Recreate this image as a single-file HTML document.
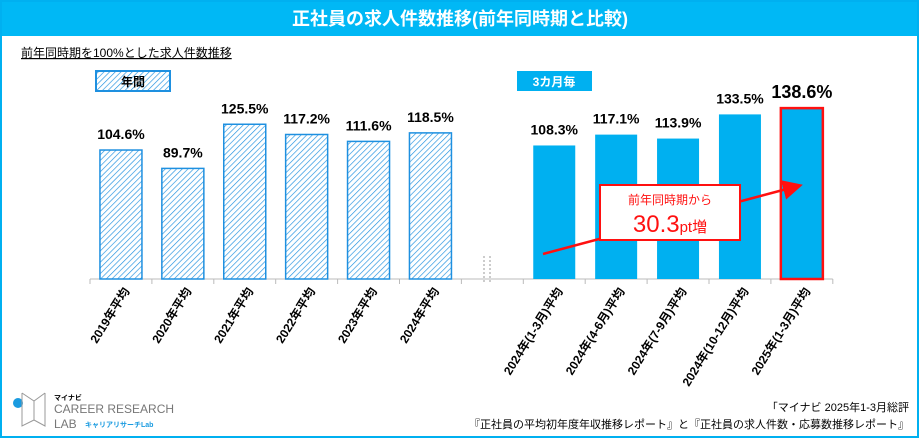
<!DOCTYPE html>
<html><head><meta charset="utf-8"><style>
body{margin:0;width:919px;height:438px;overflow:hidden;background:#fff;font-family:"Liberation Sans","Noto Sans CJK JP",sans-serif}
#frame{position:absolute;left:0;top:0;width:915px;height:434px;border:2px solid #00b0f0}
</style></head><body>
<div id="frame"></div>
<svg width="919" height="438" style="position:absolute;left:0;top:0">
<defs><pattern id="hatch" width="4" height="4" patternUnits="userSpaceOnUse" patternTransform="rotate(45)"><rect width="4" height="4" fill="#fff"/><line x1="0" y1="0" x2="0" y2="4" stroke="#1e90e0" stroke-width="1.3"/></pattern>
<marker id="ah" markerWidth="8" markerHeight="8" refX="6" refY="4" orient="auto"><path d="M0,0L8,4L0,8z" fill="#ff1010"/></marker></defs>
<rect x="2" y="2" width="915" height="34" fill="#00b8f5"/>
<text x="460" y="25" text-anchor="middle" font-size="18" font-weight="bold" fill="#fff">正社員の求人件数推移(前年同時期と比較)</text>
<text x="21" y="57" font-size="12" fill="#000" text-decoration="underline">前年同時期を100%とした求人件数推移</text>
<rect x="96" y="71" width="74" height="20" fill="url(#hatch)" stroke="#1e90e0" stroke-width="2"/>
<text x="133" y="86" text-anchor="middle" font-size="12" font-weight="bold">年間</text>
<rect x="517" y="71" width="75" height="20" fill="#00b0f0"/>
<text x="554" y="86" text-anchor="middle" font-size="12" font-weight="bold" fill="#fff">3カ月毎</text>
<g id="plot"></g>
<line x1="484" y1="256" x2="484" y2="284" stroke="#999" stroke-dasharray="2,2"/>
<line x1="490" y1="256" x2="490" y2="284" stroke="#999" stroke-dasharray="2,2"/>
<line x1="543" y1="254" x2="798" y2="186" stroke="#ff1010" stroke-width="2.5" marker-end="url(#ah)"/>
<rect x="600" y="185" width="140" height="55" fill="#fff" stroke="#ff1010" stroke-width="2"/>
<text x="670" y="204" text-anchor="middle" font-size="12" fill="#ff1010">前年同時期から</text>
<text x="670" y="232" text-anchor="middle" fill="#ff1010"><tspan font-size="24">30.3</tspan><tspan font-size="15">pt増</tspan></text>
<g>
<circle cx="18" cy="403" r="5" fill="#1a9be0"/><path d="M22,393 L34,401 L45,393 M22,393 V426 L34,420 L45,426 V393 M34,401 V420" fill="none" stroke="#999" stroke-width="1"/>
<text x="54" y="400" font-size="7" font-weight="bold">マイナビ</text>
<text x="54" y="413" font-size="12" fill="#777">CAREER RESEARCH</text>
<text x="54" y="428" font-size="12" fill="#777">LAB</text>
<text x="85" y="427" font-size="7" font-weight="bold" fill="#1a9be0">キャリアリサーチLab</text></g>
<text x="909" y="411" text-anchor="end" font-size="11">「マイナビ 2025年1-3月総評</text>
<text x="909" y="428" text-anchor="end" font-size="11">『正社員の平均初年度年収推移レポート』と『正社員の求人件数・応募数推移レポート』</text>
</svg>
<script>
const categories=["2019年平均","2020年平均","2021年平均","2022年平均","2023年平均","2024年平均","","2024年(1-3月)平均","2024年(4-6月)平均","2024年(7-9月)平均","2024年(10-12月)平均","2025年(1-3月)平均"];
const values=[104.6,89.7,125.5,117.2,111.6,118.5,null,108.3,117.1,113.9,133.5,138.6];
const valueLabels=["104.6%","89.7%","125.5%","117.2%","111.6%","118.5%","","108.3%","117.1%","113.9%","133.5%","138.6%"];
const NS="http://www.w3.org/2000/svg";
const g=document.getElementById('plot');
const x0=90,step=61.9,base=279,k=1.233,bw=42;
const xc=i=>x0+step*(i+0.5);
const y=v=>base-v*k;
function mk(t,a){const e=document.createElementNS(NS,t);for(const n in a)e.setAttribute(n,a[n]);g.appendChild(e);return e;}
const ax=mk('line',{x1:x0,y1:base,x2:x0+step*12,y2:base,stroke:'#bbb'});


for(let i=0;i<=12;i++){mk('line',{x1:x0+step*i,y1:base,x2:x0+step*i,y2:base+5,stroke:'#bbb'});}
values.forEach((v,i)=>{
 if(v===null)return;
 const last=i===values.length-1, hatched=i<6;
 const r=mk('rect',{x:xc(i)-bw/2,y:y(v),width:bw,height:v*k,fill:hatched?'url(#hatch)':'#00b0f0',stroke:last?'#ff1010':(hatched?'#1e90e0':'none'),'stroke-width':last?2.5:1.5});
 
 
 const t=mk('text',{x:xc(i),y:y(v)-(last?10:11),'text-anchor':'middle','font-size':last?18:14,'font-weight':'bold'});
 t.textContent=valueLabels[i];
 
 
 const c=mk('text',{x:0,y:0,'text-anchor':'end','font-size':12,'font-weight':'bold',transform:`translate(${xc(i)+9},${base+12}) rotate(-58)`});
 c.textContent=categories[i];
 
 
});
</script>
</body></html>
